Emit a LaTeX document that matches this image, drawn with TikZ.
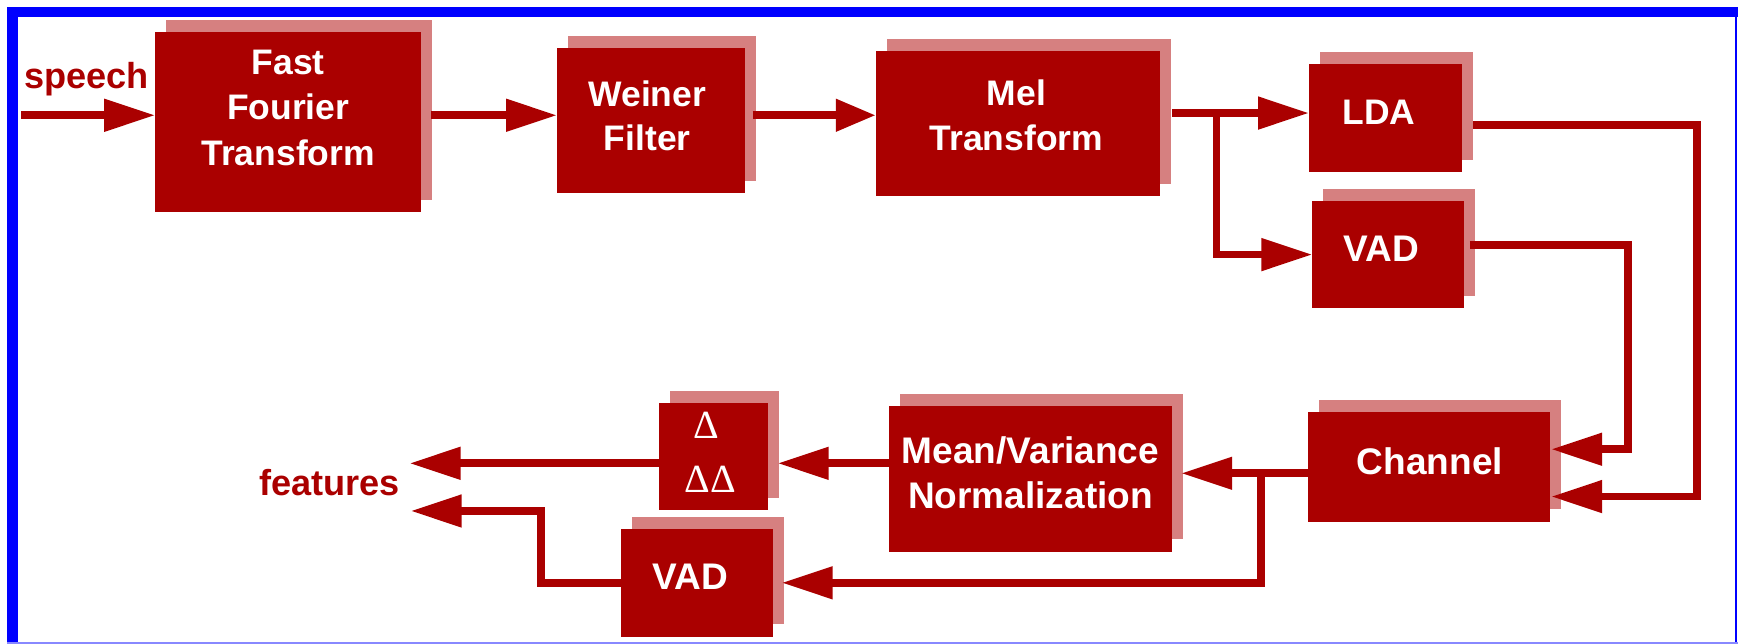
\documentclass[tikz,border=0pt]{standalone}
\usepackage{fontspec}
\setmainfont{Liberation Sans}
\newfontfamily\deltafont{Liberation Serif}
\usetikzlibrary{arrows.meta,calc,shadows}
\definecolor{boxred}{RGB}{170,0,0}
\definecolor{boxshade}{RGB}{214,128,128}
\definecolor{framebl}{RGB}{0,0,255}
\definecolor{framelt}{RGB}{136,136,255}

\begin{document}
\begin{tikzpicture}[x=0.5pt,y=-0.5pt,
  block/.style={fill=boxred, inner sep=0pt, outer sep=0pt, draw=none,
    general shadow={fill=boxshade, shadow xshift=5pt, shadow yshift=5.5pt}},
  lbl/.style={text=white, font=\bfseries\fontsize{16pt}{20pt}\selectfont,
    inner sep=0pt, anchor=base},
  wide/.style={font=\bfseries\fontsize{16.7pt}{20pt}\selectfont},
  dlbl/.style={text=white, font=\deltafont\fontsize{18pt}{20pt}\selectfont,
    inner sep=0pt, anchor=base},
  tag/.style={text=boxred, font=\bfseries\fontsize{16.3pt}{20pt}\selectfont,
    inner sep=0pt},
  conn/.style={draw=boxred, line width=3.5pt,
    -{Triangle[length=23pt,width=14pt]}}]

\useasboundingbox (0,0) rectangle (1568,581);

% frame
\fill[framebl] (6.3,6.3) rectangle (1568,15.3);
\fill[framebl] (6.3,6.3) rectangle (16.2,581);
\fill[framebl] (1565.3,6.3) rectangle (1567.2,581);
\fill[framelt] (6.3,579.6) rectangle (1568,581);

% processing blocks
\node[block, minimum width=120pt,   minimum height=81pt]    (fft)   at (260,110)     {};
\node[block, minimum width=84.75pt, minimum height=65.5pt]  (wf)    at (587.3,109)   {};
\node[block, minimum width=128.3pt, minimum height=65.5pt]  (mel)   at (918.3,111.5) {};
\node[block, minimum width=69pt,    minimum height=48.5pt]  (lda)   at (1250,106.5)  {};
\node[block, minimum width=68.5pt,  minimum height=48.3pt]  (vad1)  at (1252.5,229.7){};
\node[block, minimum width=109pt,   minimum height=49.35pt] (chan)  at (1289.4,421.3){};
\node[block, minimum width=128pt,   minimum height=65.7pt]  (mv)    at (929.7,432)   {};
\node[block, minimum width=49pt,    minimum height=48.35pt] (delta) at (643.6,411.7) {};
\node[block, minimum width=68.65pt, minimum height=48.5pt]  (vad2)  at (628.6,525.8) {};

% top row
\coordinate (speechin) at (19,104);
\draw[conn] (speechin) -- (fft.west |- speechin);
\draw[conn] ($(fft.east |- speechin)+(9,0)$) -- (wf.west |- speechin);
\draw[conn, -{Triangle[length=18pt,width=14pt]}]
  ($(wf.east |- speechin)+(7,0)$) -- (mel.west |- speechin);

% split after the mel filterbank
\coordinate (tap) at (1097.6,102);
\draw[conn] ($(mel.east |- tap)+(11,0)$) -- (lda.west |- tap);
\draw[conn] (tap) |- (vad1.west);

% feedback into the channel block
\coordinate (ldaturn) at (1531,113);
\coordinate (vadturn) at (1468.5,221);
\coordinate (chanin1) at ($(chan.east)+(1,-16)$);
\coordinate (chanin2) at ($(chan.east)+(1,26.7)$);
\draw[conn] ($(lda.east |- ldaturn)+(10,0)$) -- (ldaturn) |- (chanin2);
\draw[conn] ($(vad1.east |- vadturn)+(5,0)$) -- (vadturn) |- (chanin1);

% channel outputs
\coordinate (tap2) at (1137.4,427);
\draw[conn] (chan.west |- tap2) -- ($(mv.east |- tap2)+(8,0)$);
\draw[conn] (tap2) |- ($(vad2.east)+(8,0)$);

% bottom row
\coordinate (row3) at (0,418);
\draw[conn] (mv.west |- row3) -- ($(delta.east |- row3)+(9,0)$);
\coordinate (featin1) at (369.5,418);
\draw[conn] (delta.west |- row3) -- (featin1);
\coordinate (vadbend) at (488,461);
\coordinate (featin2) at (370.5,461);
\draw[conn] (vad2.west) -| (vadbend) -- (featin2);

% block texts
\node[lbl] (fft-a) at (260,67)  {Fast};
\node[lbl] (fft-b) at (260,108) {Fourier};
\node[lbl] (fft-c) at (260,149) {Transform};
\node[lbl] (wf-a) at (584,96)  {Weiner};
\node[lbl] (wf-b) at (584,136) {Filter};
\node[lbl] (mel-a) at (917,95.6) {Mel};
\node[lbl] (mel-b) at (917,136)  {Transform};
\node[lbl] (lda-a) at (1244,112) {LDA};
\node[lbl, wide] (vad1-a) at (1246.5,236) {VAD};
\node[lbl, wide] (chan-a) at (1290,428.5) {Channel};
\node[lbl, wide] (mv-a) at (929.7,418)   {Mean/Variance};
\node[lbl, wide] (mv-b) at (929.7,458.6) {Normalization};
\node[dlbl] (delta-a) at (637,396) {Δ};
\node[dlbl] (delta-b) at (641,444) {ΔΔ};
\node[lbl, wide] (vad2-a) at (622.6,531.7) {VAD};

% input and output tags
\node[tag, anchor=base west] (speech)   at (21.5,80) {speech};
\node[tag, anchor=base east] (features) at (361,447) {features};
\end{tikzpicture}
\end{document}
